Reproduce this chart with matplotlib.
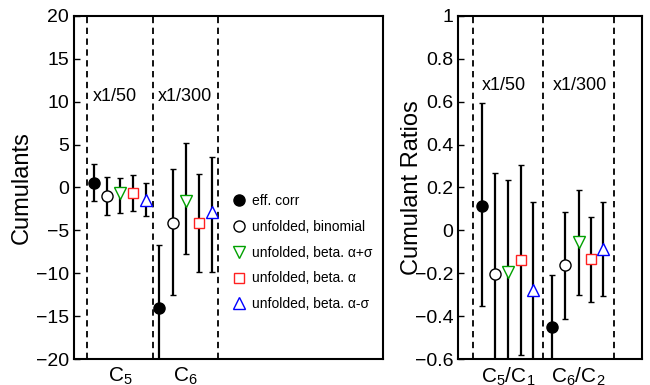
import matplotlib
matplotlib.use("Agg")
import matplotlib.pyplot as plt
from matplotlib.lines import Line2D
import numpy as np

plt.rcParams['font.family'] = ['Liberation Sans', 'DejaVu Sans']
plt.rcParams['mathtext.fontset'] = 'custom'
plt.rcParams['mathtext.rm'] = 'Liberation Sans'
plt.rcParams['mathtext.it'] = 'Liberation Sans'

# series labels and styles
names = ['eff. corr', 'unfolded, binomial', 'unfolded, beta. \u03b1+\u03c3',
         'unfolded, beta. \u03b1', 'unfolded, beta. \u03b1-\u03c3']
markers = ['o', 'o', 'v', 's', '^']
edge_colors = ['black', 'black', '#00a000', '#ff2020', '#0000ff']
face_colors = ['black', 'white', 'white', 'white', 'white']

# left panel: cumulants (scaled), rows = series, columns = C5, C6
cum_labels = ['$\\mathrm{C}_5$', '$\\mathrm{C}_6$']
cum_val = [[0.55, -14.1],
           [-0.95, -4.1],
           [-0.65, -1.6],
           [-0.65, -4.1],
           [-1.45, -2.8]]
cum_hi = [[2.7, -6.7],
          [1.2, 2.2],
          [1.05, 5.2],
          [1.4, 1.6],
          [0.55, 3.5]]
cum_lo = [[-1.6, -22.0],
          [-3.2, -12.5],
          [-3.0, -7.8],
          [-2.75, -9.8],
          [-3.3, -9.9]]
cum_offsets = [-0.4, -0.2, 0.0, 0.2, 0.4]

# right panel: cumulant ratios
rat_labels = ['$\\mathrm{C}_5/\\mathrm{C}_1$', '$\\mathrm{C}_6/\\mathrm{C}_2$']
rat_val = [[0.115, -0.453],
           [-0.202, -0.163],
           [-0.196, -0.055],
           [-0.137, -0.134],
           [-0.28, -0.088]]
rat_hi = [[0.593, -0.207],
          [0.267, 0.085],
          [0.236, 0.186],
          [0.306, 0.062],
          [0.131, 0.131]]
rat_lo = [[-0.355, -0.7],
          [-0.7, -0.414],
          [-0.7, -0.30],
          [-0.58, -0.334],
          [-0.7, -0.305]]
rat_offsets = [-0.37, -0.19, 0.0, 0.18, 0.35]

scale_text = ['x1/50', 'x1/300']

fig = plt.figure(figsize=(6.5, 3.85), dpi=100)
ax1 = fig.add_axes([0.1138, 0.0675, 0.475, 0.891])
ax2 = fig.add_axes([0.7046, 0.0675, 0.283, 0.891])


def marker_size(m):
    return 7.5 if m == 's' else 8


def draw_panel(ax, vals, his, los, offsets):
    xs = np.array([1, 2])
    for i in range(len(names)):
        v = np.array(vals[i])
        err = [v - np.array(los[i]), np.array(his[i]) - v]
        ax.errorbar(xs + offsets[i], v, yerr=err, fmt=markers[i], color='black',
                    ecolor='black', elinewidth=1.6, capsize=2.5, capthick=1.4,
                    mfc=face_colors[i], mec=edge_colors[i], mew=1.0,
                    ms=marker_size(markers[i]), zorder=3)
    for xd in [0.5, 1.5, 2.5]:
        ax.axvline(xd, color='black', ls=(0, (3.5, 2.5)), lw=1.3, zorder=1)
    for sp in ax.spines.values():
        sp.set_linewidth(1.5)
    ax.tick_params(axis='y', direction='in', length=4, width=1, labelsize=14,
                   right=False)
    ax.tick_params(axis='x', length=0, labelsize=15, pad=5)


draw_panel(ax1, cum_val, cum_hi, cum_lo, cum_offsets)
ax1.set_xlim(0.3, 5.0)
ax1.set_ylim(-20, 20)
ax1.set_yticks(np.arange(-20, 21, 5))
ax1.set_yticklabels(['\u2212' + str(-t) if t < 0 else str(t) for t in range(-20, 21, 5)])
ax1.set_xticks([1, 2])
ax1.set_xticklabels(cum_labels)
ax1.set_ylabel('Cumulants', fontsize=17, labelpad=2)
ax1.text(0.59, 10.6, scale_text[0], fontsize=13, va='center')
ax1.text(1.58, 10.6, scale_text[1], fontsize=13, va='center')

handles = [Line2D([], [], ls='none', marker=markers[i], mfc=face_colors[i],
                  mec=edge_colors[i], mew=1.0, ms=marker_size(markers[i]))
           for i in range(len(names))]
ax1.legend(handles, names, loc='center left', bbox_to_anchor=(0.47, 0.31),
           frameon=False, fontsize=10, numpoints=1, handlelength=1.0,
           handletextpad=0.45, labelspacing=0.85)

draw_panel(ax2, rat_val, rat_hi, rat_lo, rat_offsets)
ax2.set_xlim(0.29, 2.9)
ax2.set_ylim(-0.6, 1)
rt = [-0.6, -0.4, -0.2, 0, 0.2, 0.4, 0.6, 0.8, 1]
ax2.set_yticks(rt)
ax2.set_yticklabels(['\u2212%g' % (-t) if t < 0 else '%g' % t for t in rt])
ax2.set_xticks([1, 2])
ax2.set_xticklabels(rat_labels)
ax2.set_ylabel('Cumulant Ratios', fontsize=17, labelpad=-6)
ax2.text(0.63, 0.674, scale_text[0], fontsize=13, va='center')
ax2.text(1.63, 0.674, scale_text[1], fontsize=13, va='center')

fig.savefig('out.png', dpi=100)
